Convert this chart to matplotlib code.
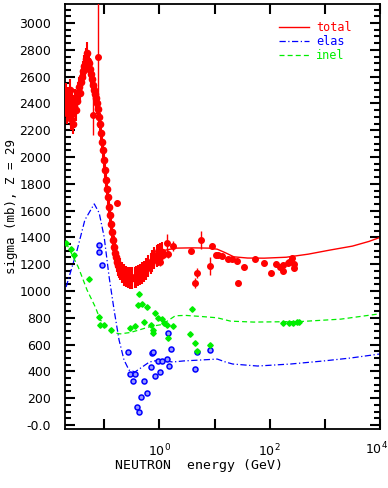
import numpy as np
import matplotlib
matplotlib.use("Agg")
import matplotlib.pyplot as plt
from matplotlib.ticker import MultipleLocator, FixedLocator, FuncFormatter

# total cross section, dense low-energy measurements (log10 E [GeV], sigma [mb])
tot_dense_loge = [-1.71, -1.69, -1.67, -1.65, -1.64, -1.62, -1.60, -1.58, -1.56, -1.55,
                  -1.53, -1.51, -1.49, -1.47, -1.45, -1.44, -1.42, -1.40, -1.38, -1.36,
                  -1.35, -1.33, -1.31, -1.29, -1.27, -1.25, -1.24, -1.22, -1.20, -1.18,
                  -1.16, -1.15, -1.13, -1.11, -1.09, -1.07, -1.05, -1.04, -1.02, -1.00,
                  -0.98, -0.96, -0.95, -0.93, -0.91, -0.89, -0.87, -0.85, -0.84, -0.82,
                  -0.80, -0.78, -0.76, -0.75, -0.73, -0.71, -0.67, -0.64, -0.60, -0.56,
                  -0.53, -0.49, -0.45, -0.42, -0.38, -0.35, -0.31, -0.27, -0.24, -0.20,
                  -0.16, -0.13, -0.09, -0.05, -0.02, 0.02, 0.05]
tot_dense_sig = [2400, 2470, 2330, 2440, 2360, 2500, 2280, 2400, 2250, 2380,
                 2430, 2350, 2420, 2480, 2520, 2480, 2560, 2600, 2640, 2680,
                 2660, 2730, 2780, 2720, 2700, 2660, 2620, 2580, 2540, 2500,
                 2470, 2440, 2400, 2360, 2300, 2250, 2180, 2110, 2050, 1980,
                 1900, 1830, 1760, 1700, 1630, 1570, 1500, 1440, 1380, 1330,
                 1285, 1250, 1220, 1195, 1180, 1165, 1140, 1120, 1108, 1100,
                 1097, 1098, 1102, 1106, 1115, 1125, 1135, 1145, 1165, 1185,
                 1205, 1225, 1245, 1260, 1270, 1280, 1288]

# total cross section, sparse measurements
tot_loge = [-1.11, -1.20, -0.76, -0.11, -0.07, -0.02, 0.02, 0.07, 0.13, 0.16, 0.24,
            0.58, 0.65, 0.69, 0.75, 0.91, 0.96, 1.02, 1.07, 1.13, 1.24, 1.31,
            1.40, 1.42, 1.53, 1.73, 1.89, 2.02, 2.11, 2.18, 2.25, 2.25, 2.33,
            2.35, 2.40, 2.44, 2.45]
tot_sig = [2746, 2313, 1657, 1269, 1239, 1299, 1216, 1269, 1358, 1276, 1336,
           1299, 1060, 1134, 1380, 1187, 1336, 1269, 1269, 1261, 1239, 1239,
           1224, 1060, 1179, 1239, 1209, 1134, 1201, 1179, 1149, 1194, 1209,
           1216, 1246, 1201, 1172]
tot_err = [400, 150, 20, 40, 30, 40, 30, 30, 70, 30, 40,
           20, 40, 40, 70, 70, 20, 20, 20, 20, 20, 20,
           20, 20, 20, 20, 20, 20, 20, 20, 20, 20, 20,
           20, 20, 20, 20]

# total cross section fit
tot_fit_loge = [0.05, 0.3, 0.6, 0.9, 1.05, 1.2, 1.35, 1.6, 1.9, 2.3, 2.7, 3.1, 3.5, 3.8, 4.0]
tot_fit_sig = [1300, 1320, 1322, 1320, 1312, 1285, 1255, 1246, 1245, 1252, 1275, 1306, 1335, 1370, 1400]

# elastic
el_loge = [-1.09, -1.09, -1.04, -0.56, -0.53, -0.44, -0.47, -0.27, -0.33, -0.22, -0.40,
           -0.36, -0.16, -0.13, -0.11, -0.07, -0.02, 0.02, 0.05, 0.13, 0.18, 0.15,
           0.22, 0.64, 0.69, 0.91]
el_sig = [1343, 1291, 1194, 545, 380, 380, 328, 328, 209, 239, 134,
          97, 433, 537, 545, 366, 478, 396, 478, 493, 440, 687,
          567, 418, 545, 560]
el_fit_loge = [-1.69, -1.49, -1.35, -1.18, -1.09, -1.0, -0.91, -0.82, -0.73, -0.64, -0.55,
               -0.44, -0.31, -0.18, 0.0, 0.24, 0.44, 0.75, 1.05, 1.2, 1.33, 1.78, 2.38,
               2.98, 3.47, 4.0]
el_fit_sig = [1030, 1306, 1530, 1650, 1582, 1403, 1104, 858, 634, 485, 410,
              396, 433, 470, 485, 470, 478, 485, 492, 470, 455, 440, 455,
              478, 500, 530]

# inelastic
inel_loge = [-1.69, -1.60, -1.55, -1.27, -1.09, -1.07, -1.00, -0.87, -0.53, -0.44, -0.36,
             -0.38, -0.31, -0.22, -0.27, -0.16, -0.11, -0.11, -0.07, -0.02, 0.04, 0.09,
             0.13, 0.15, 0.24, 0.55, 0.60, 0.64, 0.69, 0.91, 2.25, 2.35, 2.42, 2.49, 2.53]
inel_sig = [1358, 1313, 1269, 1090, 806, 746, 746, 709, 724, 739, 978,
            895, 903, 880, 769, 746, 709, 687, 836, 798, 791, 761,
            746, 649, 739, 679, 866, 612, 552, 597, 761, 761, 761, 769, 769]
inel_fit_loge = [-1.69, -1.47, -1.31, -1.16, -1.07, -0.95, -0.80, -0.71, -0.53, -0.36, -0.16,
                 0.05, 0.29, 0.47, 0.75, 1.05, 1.29, 1.71, 2.56, 3.29, 4.0]
inel_fit_sig = [1360, 1179, 1007, 880, 784, 731, 687, 680, 690, 710, 735,
                750, 815, 818, 810, 800, 775, 768, 772, 790, 830]

RED, BLUE, GREEN = "#ff0000", "#0000ff", "#00ee00"

fig = plt.figure(figsize=(3.88, 4.88), dpi=100)
ax = fig.add_axes([65 / 388, 1 - 429 / 488, 315 / 388, 425 / 488])

e = lambda v: 10 ** np.asarray(v)

ax.errorbar(e(tot_dense_loge), tot_dense_sig, yerr=80, fmt="o", color=RED,
            ms=4.5, elinewidth=1.5, capsize=0, zorder=3)
ax.errorbar(e(tot_loge), tot_sig, yerr=tot_err, fmt="o", color=RED,
            ms=4, elinewidth=1, capsize=0, zorder=3)
ax.plot(e(tot_fit_loge), tot_fit_sig, color=RED, lw=1, label="total")

ax.plot(e(el_fit_loge), el_fit_sig, color=BLUE, lw=0.9, ls=(0, (5, 2, 1, 2)), label="elas")
ax.plot(e(el_loge), el_sig, "o", mfc="#9999ff", mec=BLUE, mew=1.1, ms=3.6, ls="none", zorder=3)

ax.plot(e(inel_fit_loge), inel_fit_sig, color=GREEN, lw=0.9, ls=(0, (4, 2.5)), label="inel")
ax.plot(e(inel_loge), inel_sig, "D", color=GREEN, ms=2.8, ls="none", zorder=3)

ax.set_xscale("log")
ax.set_xlim(10 ** -1.71, 1e4)
ax.set_ylim(-30, 3142)

ax.xaxis.set_major_locator(FixedLocator([0.1, 1, 10, 100, 1000, 10000]))
ax.xaxis.set_minor_locator(FixedLocator([]))
xlab = {1: r"$10^0$", 100: r"$10^2$"}
ax.xaxis.set_major_formatter(FuncFormatter(lambda v, p: xlab.get(int(round(v)) if v >= 1 else -1, "")))

ax.yaxis.set_major_locator(MultipleLocator(200))
ax.yaxis.set_minor_locator(MultipleLocator(50))
ax.yaxis.set_major_formatter(FuncFormatter(lambda v, p: "-0.0" if abs(v) < 1 else f"{int(v)}"))

ax.tick_params(which="both", direction="in", top=True, right=True, width=1.5,
               labelsize=9)
ax.tick_params(which="major", length=7)
ax.tick_params(which="minor", length=4)
ax.tick_params(axis="y", pad=10)
ax.tick_params(axis="x", pad=10)
for s in ax.spines.values():
    s.set_linewidth(1.3)

# the last decade label sits at the figure's right edge
fig.text(388 / 388, 1 - 449 / 488, r"$10^4$", ha="right", va="center", fontsize=9)

leg = ax.legend(loc="upper right", bbox_to_anchor=(0.945, 0.985), frameon=False,
                handlelength=2.6, handletextpad=0.6, labelspacing=0.1,
                prop={"family": "DejaVu Sans Mono", "size": 8.5})
for t, c in zip(leg.get_texts(), [RED, BLUE, GREEN]):
    t.set_color(c)

fig.text(12 / 388, 1 - 207 / 488, "sigma (mb), Z = 29", rotation=90, ha="center",
         va="center", family="DejaVu Sans Mono", fontsize=9)
fig.text(199 / 388, 1 - 466 / 488, "NEUTRON  energy (GeV)", ha="center", va="center",
         family="DejaVu Sans Mono", fontsize=9.5)

fig.savefig("out.png", dpi=100)
